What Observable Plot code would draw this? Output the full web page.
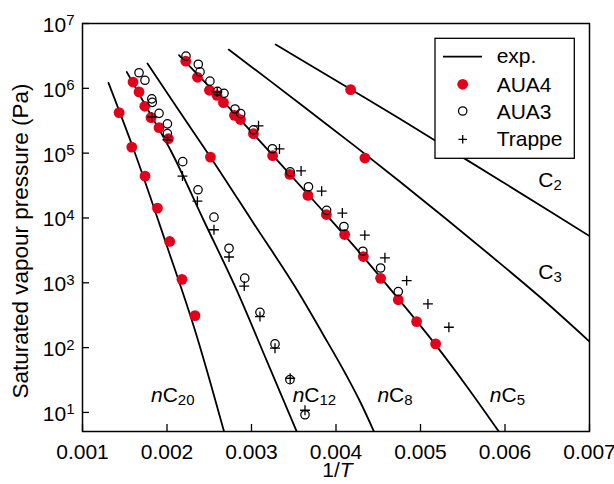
<!DOCTYPE html>
<html>
<head>
<meta charset="utf-8">
<script src="https://cdn.jsdelivr.net/npm/d3@7"></script>
<script src="https://cdn.jsdelivr.net/npm/@observablehq/plot@0.6"></script>
<style>
  html, body { margin: 0; padding: 0; background: white; overflow: hidden; }
  #chart svg { display: block; }
</style>
</head>
<body>
<div id="chart"></div>
<script>
// ---------- tick values ----------
const xTicks = [0.001, 0.002, 0.003, 0.004, 0.005, 0.006, 0.007];
const yTicks = [10, 100, 1e3, 1e4, 1e5, 1e6, 1e7];

// ---------- experimental curves [1/T, P (Pa)] ----------
const expNC20 = [[0.001308, 1.21e6], [0.001610, 1.10e5], [0.001997, 3760], [0.002332, 183], [0.002517, 27.7], [0.002675, 5.08]];
const expNC12 = [[0.001524, 1.79e6], [0.001784, 4.42e5], [0.002044, 1.10e5], [0.002435, 9140], [0.002833, 731], [0.003180, 62.8], [0.003535, 5.08]];
const expNC8  = [[0.001769, 2.41e6], [0.002139, 4.58e5], [0.002517, 8.59e4], [0.003026, 8220], [0.003543, 759], [0.003842, 164], [0.004114, 39.2], [0.004292, 14.1], [0.004449, 5.08]];
const expNC5  = [[0.002143, 3.24e6], [0.002754, 4.74e5], [0.003306, 7.73e4], [0.003819, 1.40e4], [0.004292, 2800], [0.004765, 513], [0.005170, 114], [0.005533, 26.8], [0.005927, 5.08]];
const expC3   = [[0.002730, 3.96e6], [0.003227, 1.28e6], [0.003700, 4.31e5], [0.004232, 1.26e5], [0.004765, 3.56e4], [0.005297, 9820], [0.005829, 2640], [0.006421, 592], [0.007, 124]];
const expC2   = [[0.003286, 4.74e6], [0.003582, 2.79e6], [0.004173, 9.66e5], [0.004765, 3.33e5], [0.005356, 1.12e5], [0.005947, 3.76e4], [0.006539, 1.25e4], [0.007, 5270]];

// ---------- AUA4 simulations ----------
const aua4NC20 = [[0.001433, 4.22e5], [0.001583, 1.24e5], [0.00174, 4.43e4], [0.001887, 1.42e4], [0.002032, 4340], [0.002177, 1130], [0.002331, 312]];
const aua4NC12 = [[0.001598, 1.25e6], [0.001669, 8.8e5], [0.001737, 5.28e5], [0.001811, 3.53e5], [0.001906, 2.47e5], [0.002017, 1.67e5]];
const aua4NC8  = [[0.002514, 8.69e4]];
const aua4NC5  = [[0.002222, 2.62e6], [0.00236, 1.48e6], [0.002502, 9.33e5], [0.002592, 7.8e5], [0.002668, 6.02e5], [0.002799, 3.83e5], [0.002869, 3.3e5], [0.003023, 2.0e5], [0.00325, 9.14e4], [0.003454, 4.7e4], [0.003668, 2.23e4], [0.003886, 1.13e4], [0.004102, 5560], [0.004324, 2540], [0.004528, 1170], [0.004737, 547], [0.004954, 252], [0.005179, 114]];
const aua4C3   = [[0.004342, 8.4e4]];
const aua4C2   = [[0.004173, 9.55e5]];

// ---------- AUA3 simulations ----------
const aua3NC12 = [[0.001669, 1.74e6], [0.001739, 1.33e6], [0.00182, 6.89e5], [0.001826, 6.08e5], [0.001906, 4.11e5], [0.002005, 2.83e5], [0.002005, 2.0e5], [0.002186, 7.38e4], [0.002367, 2.72e4], [0.002556, 1.03e4], [0.002734, 3410], [0.00292, 1180], [0.0031, 350], [0.003278, 114], [0.003455, 32], [0.003633, 9.2]];
const aua3NC5  = [[0.002225, 3.13e6], [0.00237, 2.35e6], [0.002391, 1.79e6], [0.002508, 1.29e6], [0.002597, 9.0e5], [0.002675, 8.38e5], [0.002805, 4.8e5], [0.002872, 4.07e5], [0.003023, 2.29e5], [0.003247, 1.17e5], [0.003458, 5.13e4], [0.003674, 3.03e4], [0.003889, 1.31e4], [0.004094, 7390], [0.004318, 3070], [0.004528, 1690], [0.004737, 732]];

// ---------- TraPPE simulations ----------
const trappeNC12 = [[0.00182, 3.61e5], [0.002005, 1.61e5], [0.002183, 4.43e4], [0.00236, 1.82e4], [0.002556, 6580], [0.002734, 2500], [0.002914, 889], [0.0031, 301], [0.003278, 98], [0.003458, 33.7], [0.003633, 10.8]];
const trappeNC5  = [[0.002594, 8.78e5], [0.003083, 2.64e5], [0.003331, 1.16e5], [0.003587, 5.32e4], [0.00383, 2.59e4], [0.004075, 1.19e4], [0.004341, 5420], [0.004579, 2430], [0.004836, 1080], [0.005088, 472], [0.005336, 206]];

// ---------- curve labels (prefix, base, subscript, anchor in data units) ----------
const labelNames = [["n", "C", "20"], ["n", "C", "12"], ["n", "C", "8"], ["n", "C", "5"], ["", "C", "3"], ["", "C", "2"]];
const labelX = [0.001816, 0.003493, 0.004496, 0.005826, 0.0064, 0.0064];
const labelY = [14.3, 14.3, 14.3, 14.3, 1122, 2.92e4];

const legendNames = ["exp.", "AUA4", "AUA3", "Trappe"];

const RED = "#e2001a";
const FONT = "'Liberation Sans', Arial, Helvetica, sans-serif";

const expCurves = [expNC20, expNC12, expNC8, expNC5, expC3, expC2];
const aua4All = [].concat(aua4NC20, aua4NC12, aua4NC8, aua4NC5, aua4C3, aua4C2);
const aua3All = [].concat(aua3NC12, aua3NC5);
const trappeAll = [].concat(trappeNC12, trappeNC5);

const px = d => d[0], py = d => d[1];

const plot = Plot.plot({
  width: 614,
  height: 484,
  marginLeft: 82,
  marginRight: 25,
  marginTop: 23,
  marginBottom: 53,
  style: { fontFamily: FONT, fontSize: "21px", background: "white", color: "black" },
  x: { type: "linear", domain: [0.001, 0.007] },
  y: { type: "log", domain: [5.08, 1e7] },
  marks: [
    ...expCurves.map(c => Plot.line(c, { x: px, y: py, stroke: "black", strokeWidth: 1.8, curve: "monotone-x", clip: true })),
    Plot.dot(aua4All, { x: px, y: py, r: 5.4, fill: RED, stroke: "none" }),
    Plot.dot(aua3All, { x: px, y: py, r: 4.2, fill: "none", stroke: "black", strokeWidth: 1.25 }),
    Plot.dot(trappeAll, { x: px, y: py, r: 3.3, symbol: "plus", stroke: "black", strokeWidth: 1.3 }),
    Plot.tickX(xTicks, { x: d => d, insetTop: 401, stroke: "black", strokeWidth: 1.3 }),
    Plot.tickY(yTicks, { y: d => d, insetRight: 500, stroke: "black", strokeWidth: 1.3 }),
    Plot.frame({ stroke: "black", strokeWidth: 1.5 }),
    Plot.axisX(xTicks, { anchor: "bottom", tickSize: 0, tickPadding: 12.4, tickFormat: d3.format(".3f"), label: null }),
    Plot.axisY(yTicks, { anchor: "left", tickSize: 0, tickPadding: 8, dy: 1.7, tickFormat: d => "10^" + Math.round(Math.log10(d)), label: null })
  ]
});

document.getElementById("chart").appendChild(plot);

const NS = "http://www.w3.org/2000/svg";
// superscripts on the y tick labels
plot.querySelectorAll("text").forEach(t => {
  const m = t.textContent.match(/^10\^(-?\d+)$/);
  if (!m) return;
  t.textContent = "";
  const a = document.createElementNS(NS, "tspan");
  a.textContent = "10";
  t.appendChild(a);
  const b = document.createElementNS(NS, "tspan");
  b.setAttribute("font-size", "15");
  b.setAttribute("dy", "-6.5");
  b.textContent = m[1];
  t.appendChild(b);
});

const svg = d3.select(plot);
const xs = plot.scale("x"), ys = plot.scale("y");

// curve labels
const lab = svg.append("g").attr("font-family", FONT).attr("font-size", 21).attr("fill", "black")
  .attr("text-anchor", "start");
labelNames.forEach((nm, i) => {
  const t = lab.append("text").attr("x", xs.apply(labelX[i])).attr("y", ys.apply(labelY[i]));
  if (nm[0]) t.append("tspan").attr("font-style", "italic").text(nm[0]);
  t.append("tspan").text(nm[1]);
  t.append("tspan").attr("font-size", 15).attr("dy", 3).text(nm[2]);
});

// axis titles
svg.append("text")
  .attr("transform", "translate(27.5,241) rotate(-90)")
  .attr("text-anchor", "middle").attr("font-family", FONT).attr("font-size", 22.5).attr("fill", "black")
  .text("Saturated vapour pressure (Pa)");
const xt = svg.append("text")
  .attr("x", 337.5).attr("y", 477)
  .attr("text-anchor", "middle").attr("font-family", FONT).attr("font-size", 21).attr("fill", "black");
xt.append("tspan").text("1/");
xt.append("tspan").attr("font-style", "italic").text("T");

// legend
const lg = svg.append("g").attr("font-family", FONT).attr("font-size", 21).attr("text-anchor", "start");
lg.append("rect").attr("x", 435).attr("y", 38.3).attr("width", 139.3).attr("height", 120)
  .attr("fill", "white").attr("stroke", "black").attr("stroke-width", 1.3);
lg.append("line").attr("x1", 443).attr("x2", 482).attr("y1", 56.7).attr("y2", 56.7)
  .attr("stroke", "black").attr("stroke-width", 1.8);
lg.append("circle").attr("cx", 462.7).attr("cy", 84.3).attr("r", 5.4).attr("fill", RED);
lg.append("circle").attr("cx", 462.7).attr("cy", 111).attr("r", 4.2).attr("fill", "none")
  .attr("stroke", "black").attr("stroke-width", 1.25);
lg.append("path").attr("d", "M458.4,139.3H467M462.7,135V143.6")
  .attr("stroke", "black").attr("stroke-width", 1.3).attr("fill", "none");
const legBase = [62.5, 91.5, 118.5, 146];
legendNames.forEach((nm, i) => {
  lg.append("text").attr("x", 496.7).attr("y", legBase[i]).attr("fill", "black").text(nm);
});
</script>
</body>
</html>
